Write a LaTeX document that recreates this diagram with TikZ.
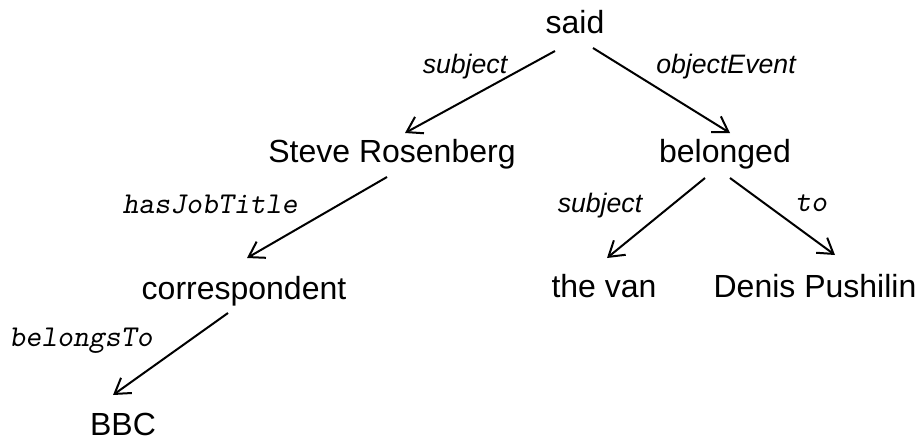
\documentclass[tikz,border=0pt]{standalone}
\usepackage{fontspec}
\setmainfont{Liberation Sans}
\usetikzlibrary{arrows.meta}

\tikzset{
  word/.style={anchor=base, inner sep=0pt, font=\fontsize{24}{28}\selectfont},
  rel/.style={anchor=base, inner sep=0pt, font=\fontsize{20}{24}\selectfont\itshape},
  relmono/.style={anchor=base, inner sep=0pt, font=\fontsize{22.7}{26}\selectfont\ttfamily\slshape},
  link/.style={line width=1.5pt, -{Straight Barb[length=11pt,width=14pt,line width=1.5pt]}}
}

\begin{document}
\begin{tikzpicture}[x=0.75pt,y=-0.75pt]
  \useasboundingbox (0,0) rectangle (921,440);
  % words
  \node[word] (said) at (575,33) {said};
  \node[word] (steve) at (392,162) {Steve Rosenberg};
  \node[word] (belonged) at (725,162) {belonged};
  \node[word] (corr) at (244,299) {correspondent};
  \node[word] (van) at (604,297) {the van};
  \node[word] (denis) at (815,297) {Denis Pushilin};
  \node[word] (bbc) at (123,435) {BBC};
  % relations
  \node[rel] (subj1) at (465,73) {subject};
  \node[rel] (objev) at (726,73) {objectEvent};
  \node[relmono] (jobtitle) at (210,213) {hasJobTitle};
  \node[rel] (subj2) at (600,212) {subject};
  \node[relmono] (to) at (811,211) {to};
  \node[relmono] (belongs) at (81,346) {belongsTo};
  % links
  \draw[link] ([shift={(-20,18)}]said.base) -- ([shift={(13,-29)}]steve.base);
  \draw[link] ([shift={(18,15)}]said.base) -- ([shift={(5,-29)}]belonged.base);
  \draw[link] ([shift={(-5,15)}]steve.base) -- ([shift={(3,-41)}]corr.base);
  \draw[link] ([shift={(-16,14)}]corr.base) -- ([shift={(-10,-40)}]bbc.base);
  \draw[link] ([shift={(-20,16)}]belonged.base) -- ([shift={(3,-39)}]van.base);
  \draw[link] ([shift={(5,16)}]belonged.base) -- ([shift={(20,-42)}]denis.base);
\end{tikzpicture}
\end{document}
